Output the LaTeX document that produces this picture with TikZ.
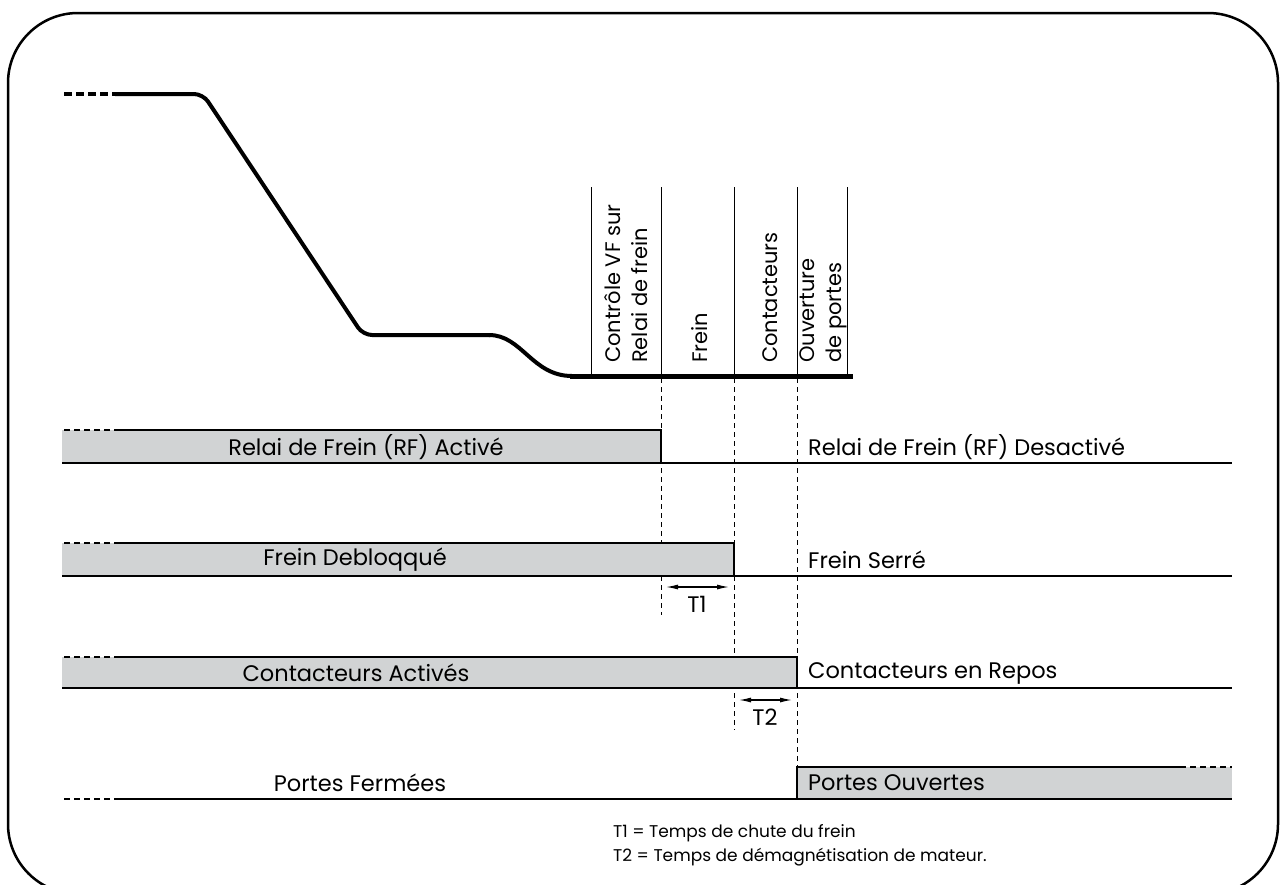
\documentclass[tikz,border=0pt]{standalone}
\usepackage{fontspec}
\setmainfont{Poppins}
\usetikzlibrary{arrows.meta}
\definecolor{barfill}{HTML}{D1D3D4}
\begin{document}
\begin{tikzpicture}[x=1pt, y=-1pt,
		bar/.style={fill=barfill},
		edge/.style={line width=2.6pt},
		base/.style={line width=1.2pt},
		vdash/.style={line width=1pt, dash pattern=on 5pt off 4pt},
		tip/.style={line width=1.2pt, {Latex[length=12pt,width=5pt]}-{Latex[length=12pt,width=5pt]}},
		lbl/.style={font=\fontsize{22.5}{26}\selectfont, inner sep=0pt},
		rot/.style={font=\fontsize{21}{27}\selectfont, rotate=90, anchor=west, align=left, inner sep=0pt}]
	\clip (0,0) rectangle (1281,884);
	\useasboundingbox (0,0) rectangle (1281,884);
	\draw[line width=2.5pt, rounded corners=70pt] (8,13) rectangle (1278,894);
	% time marks
	\coordinate (rf) at (661,0);
	\coordinate (fr) at (734,0);
	\coordinate (ct) at (797,0);
	% speed curve
	\draw[line width=4pt, dash pattern=on 8pt off 4pt] (64,94) -- (115,94);
	\draw[line width=4pt, rounded corners=9pt] (115,94) -- (203,94) -- (363,335) -- (490,335);
	\draw[line width=4pt] (489,335) .. controls (522,335) and (532,376) .. (572,376);
	\draw[line width=5pt] (570,376) -- (853,376);
	\foreach \x in {591,661,734,797,847}
		\draw[line width=1pt] (\x,187) -- (\x,376);
	\node[rot] (lvf) at (626,363) {Contrôle VF sur\\Relai de frein};
	\node[rot] (lfr) at (700,363) {Frein};
	\node[rot] (lct) at (770,363) {Contacteurs};
	\node[rot] (lop) at (823,363) {Ouverture\\de portes};
	\draw[vdash] (rf |- 0,378) -- (rf |- 0,615);
	\draw[vdash] (fr |- 0,378) -- (fr |- 0,730);
	\draw[vdash] (ct |- 0,378) -- (ct |- 0,767);
	% relai de frein
	\fill[bar] (62,430) rectangle (rf |- 0,463);
	\draw[edge, dash pattern=on 6pt off 4pt] (64,430) -- (115,430);
	\draw[edge] (115,430) -- (rf |- 0,430) -- (rf |- 0,463) -- (62,463);
	\draw[base] (rf |- 0,463) -- (1232,463);
	\node[lbl] (rfon) at (366,447) {Relai de Frein (RF) Activé};
	\node[lbl, anchor=west] (rfoff) at (808,447) {Relai de Frein (RF) Desactivé};
	% frein
	\fill[bar] (62,543) rectangle (fr |- 0,576);
	\draw[edge, dash pattern=on 6pt off 4pt] (64,543) -- (115,543);
	\draw[edge] (115,543) -- (fr |- 0,543) -- (fr |- 0,576) -- (62,576);
	\draw[base] (fr |- 0,576) -- (1232,576);
	\node[lbl] (fron) at (355,560) {Frein Debloqqué};
	\node[lbl, anchor=west] (froff) at (808,560) {Frein Serré};
	\coordinate (t1a) at (666,587);
	\coordinate (t1b) at (729,587);
	\draw[tip] (t1a) -- (t1b);
	\node[lbl] (t1) at (697,604) {T1};
	% contacteurs
	\fill[bar] (62,657) rectangle (ct |- 0,688);
	\draw[edge, dash pattern=on 6pt off 4pt] (64,657) -- (115,657);
	\draw[edge] (115,657) -- (ct |- 0,657) -- (ct |- 0,688) -- (62,688);
	\draw[base] (ct |- 0,688) -- (1232,688);
	\node[lbl] (cton) at (356,673) {Contacteurs Activés};
	\node[lbl, anchor=west] (ctoff) at (808,673) {Contacteurs en Repos};
	\coordinate (t2a) at (739,700);
	\coordinate (t2b) at (792,700);
	\draw[tip] (t2a) -- (t2b);
	\node[lbl] (t2) at (765,717) {T2};
	% portes
	\draw[base, dash pattern=on 6pt off 4pt] (64,799) -- (115,799);
	\draw[base] (115,799) -- (ct |- 0,799);
	\fill[bar] (ct |- 0,767) rectangle (1232,799);
	\draw[edge] (1180,767) -- (ct |- 0,767) -- (ct |- 0,799) -- (1232,799);
	\draw[edge, dash pattern=on 6pt off 4pt] (1180,767) -- (1232,767);
	\node[lbl] (pfer) at (360,783) {Portes Fermées};
	\node[lbl, anchor=west] (pouv) at (808,783) {Portes Ouvertes};
	% legende
	\node[lbl, anchor=west, font=\fontsize{17}{20}\selectfont] (leg1) at (613,833) {T1 = Temps de chute du frein};
	\node[lbl, anchor=west, font=\fontsize{17}{20}\selectfont] (leg2) at (613,857) {T2 = Temps de démagnétisation de mateur.};
\end{tikzpicture}
\end{document}
